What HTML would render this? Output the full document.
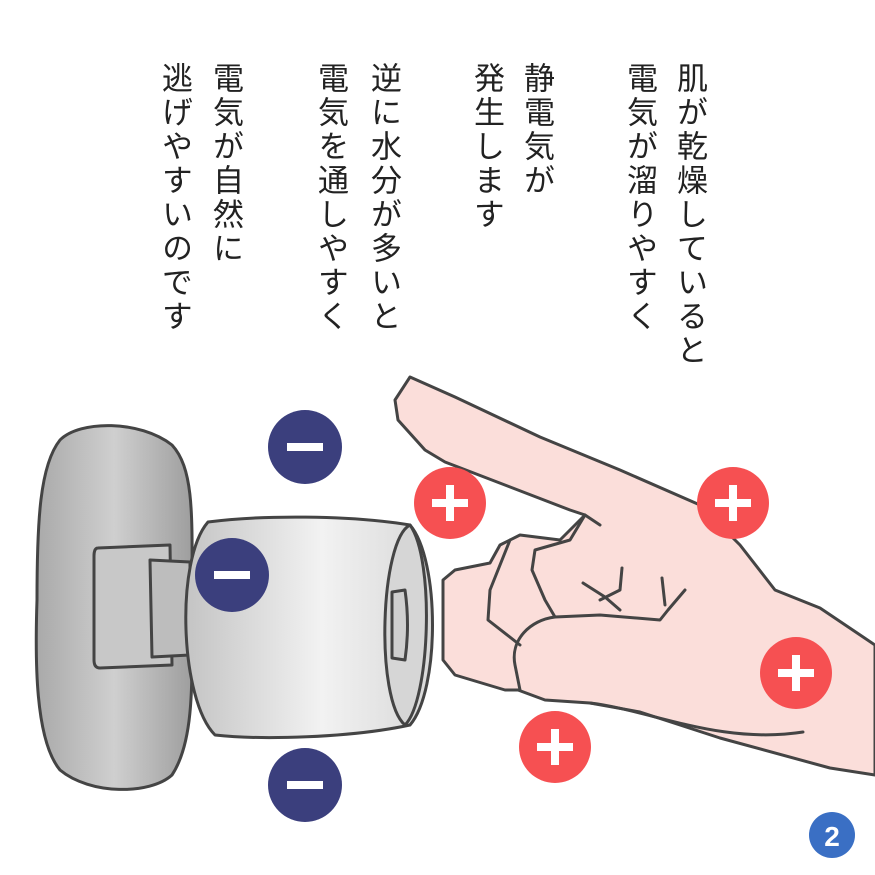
<!DOCTYPE html>
<html><head><meta charset="utf-8"><style>
body{margin:0;background:#fff;width:875px;height:875px;overflow:hidden;position:relative;font-family:"Liberation Sans","Noto Sans CJK JP",sans-serif}
.c{position:absolute;top:62px;writing-mode:vertical-rl;font-size:31px;line-height:34px;letter-spacing:3px;color:#222;white-space:nowrap}
</style></head><body>
<svg width="875" height="875" style="position:absolute;left:0;top:0">
<defs>
<linearGradient id="gp" x1="0" x2="1"><stop offset="0" stop-color="#a9a9a9"/><stop offset="0.5" stop-color="#cfcfcf"/><stop offset="1" stop-color="#9e9e9e"/></linearGradient>
<linearGradient id="gk" x1="0" x2="1"><stop offset="0" stop-color="#c4c4c4"/><stop offset="0.55" stop-color="#f2f2f2"/><stop offset="1" stop-color="#d8d8d8"/></linearGradient>
</defs>
<g stroke="#444" stroke-width="3" stroke-linejoin="round" stroke-linecap="round">
<path d="M60,440 C80,420 140,420 172,445 C195,470 192,520 192,600 C192,680 195,740 172,775 C150,795 90,795 60,770 C35,740 35,660 37,600 C37,520 40,465 60,440 Z" fill="url(#gp)"/>
<path d="M98,548 L170,545 L172,665 L100,668 Q94,668 94,660 L94,556 Q94,548 98,548 Z" fill="#c8c8c8"/>
<path d="M150,560 L190,562 L190,655 L152,657 Z" fill="#bdbdbd"/>
<path d="M208,522 C260,515 350,515 410,525 C440,560 440,690 410,725 C350,738 260,740 215,735 C180,700 175,560 208,522 Z" fill="url(#gk)"/>
<path d="M410,525 C395,560 385,680 405,725" fill="none"/>
<path d="M410,525 C380,540 375,700 405,725 C430,700 435,560 410,525Z" fill="#d6d6d6"/>
<path d="M392,592 L405,590 Q410,625 405,660 L392,658 Z" fill="#cfcfcf"/>
<path d="M410,377 L455,397 L540,437 L620,470 L700,505 L740,545 L775,590 L820,608 L875,645 L875,775 L830,768 L720,738 L640,712 L590,703 L545,700 L518,690 L505,690 L455,675 L443,660 L443,580 L455,570 L490,563 L500,545 L520,535 L560,540 L585,515 L570,510 L445,462 L425,450 L398,420 L395,400 Z" fill="#fbdeda"/>
<path d="M585,515 L600,525 M585,515 L570,540 L535,550 L532,570 L545,600 L555,617 L600,615 L660,620 L668,610 L685,590" fill="none"/>
<path d="M510,540 L490,590 L488,620 L520,645" fill="none"/>
<path d="M555,617 C530,620 510,640 515,665 L520,690" fill="none"/>
<path d="M583,583 L605,597 L620,610 M600,600 L620,590 L622,568 M662,578 L665,605" fill="none"/>
<path d="M590,703 C650,710 720,745 803,732" fill="none"/>
</g>
<g fill="#3b3f7d"><circle cx="305" cy="447" r="37"/><circle cx="232" cy="575" r="37"/><circle cx="305" cy="785" r="37"/></g>
<g fill="#fff"><rect x="287" y="443" width="36" height="8"/><rect x="214" y="571" width="36" height="8"/><rect x="287" y="781" width="36" height="8"/></g>
<g fill="#f65052"><circle cx="450" cy="503" r="36"/><circle cx="733" cy="503" r="36"/><circle cx="796" cy="673" r="36"/><circle cx="555" cy="747" r="36"/></g>
<g fill="#fff">
<rect x="432" y="499" width="36" height="8"/><rect x="446" y="485" width="8" height="36"/>
<rect x="715" y="499" width="36" height="8"/><rect x="729" y="485" width="8" height="36"/>
<rect x="778" y="669" width="36" height="8"/><rect x="792" y="655" width="8" height="36"/>
<rect x="537" y="743" width="36" height="8"/><rect x="551" y="729" width="8" height="36"/>
</g>
<circle cx="832" cy="835" r="23" fill="#3a6fc4"/>
<text x="832" y="846" font-size="28" font-weight="bold" fill="#fff" text-anchor="middle" font-family="Liberation Sans,sans-serif">2</text>
</svg>
<div class="c" style="left:672px">肌が乾燥していると</div>
<div class="c" style="left:622px">電気が溜りやすく</div>
<div class="c" style="left:519px">静電気が</div>
<div class="c" style="left:469px">発生します</div>
<div class="c" style="left:366px">逆に水分が多いと</div>
<div class="c" style="left:313px">電気を通しやすく</div>
<div class="c" style="left:208px">電気が自然に</div>
<div class="c" style="left:157px">逃げやすいのです</div>
</body></html>
